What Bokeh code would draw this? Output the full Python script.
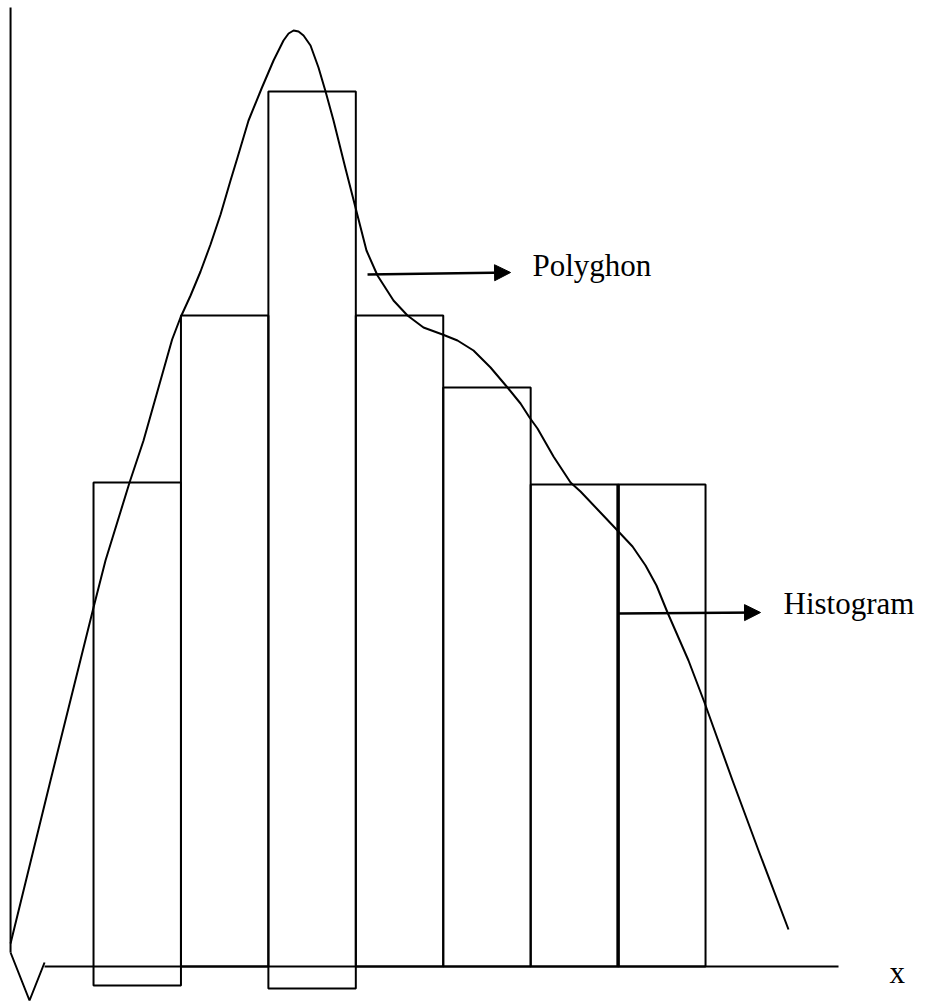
from bokeh.plotting import figure
from bokeh.models import Range1d, Arrow, NormalHead, ColumnDataSource
from bokeh.core.properties import value
from bokeh.embed import file_html
from bokeh.resources import INLINE

# ---- data (class boundaries / frequencies) ----
class_left = [0, 10, 20, 30, 40, 50, 60]
class_right = [10, 20, 30, 40, 50, 60, 70]
freq = [9.68, 13.02, 17.5, 13.02, 11.58, 9.64, 9.64]
bar_bottom = [-0.38, 0.0, -0.44, 0.0, 0.0, 0.0, 0.0]

poly_x = [-9.49, -4.92, 0.0, 1.37, 4.12, 5.72, 8.99, 9.95, 11.1, 12.24, 13.38,
          14.53, 15.67, 16.47, 17.73, 19.22,
          20.59, 21.73, 22.31, 22.88, 23.45, 24.02, 24.82, 25.73, 26.54, 27.45, 28.82, 30.08,
          31.22, 32.48, 34.31, 35.91, 37.74, 39.92, 41.63, 43.46, 45.41, 47.35,
          48.84, 49.87, 50.78, 52.61, 54.56, 55.7, 57.76, 59.93, 61.65, 63.14,
          64.39, 65.65, 68.05, 69.88, 73.09, 76.06, 79.49]
poly_y = [0.46, 3.72, 7.18, 8.12, 9.68, 10.52, 12.54, 12.98, 13.42, 13.9, 14.44,
          15.04, 15.72, 16.18, 16.92, 17.56,
          18.12, 18.52, 18.66, 18.72, 18.7, 18.62, 18.42, 17.98, 17.5, 16.92, 15.96, 15.1,
          14.32, 13.82, 13.32, 13.02, 12.78, 12.64, 12.52, 12.32, 11.98, 11.58,
          11.26, 10.98, 10.76, 10.2, 9.68, 9.5, 9.12, 8.72, 8.4, 8.02,
          7.62, 7.08, 6.12, 5.28, 3.72, 2.32, 0.74]

labels = ["Polyghon", "Histogram", "x"]

W, H = 932, 1001
p = figure(width=W, height=H, output_backend="svg", toolbar_location=None,
           x_range=Range1d(-10.64, 95.96), y_range=Range1d(-0.70, 19.32),
           min_border=0, outline_line_color=None)
p.xaxis.visible = False
p.yaxis.visible = False
p.grid.visible = False
p.background_fill_color = "white"
p.border_fill_color = "white"

# axes drawn by hand (with break symbol)
p.line([-9.49, -9.49], [19.18, 0.28], line_color="black", line_width=2)
p.line([-9.49, -7.32, -5.6], [0.28, -0.68, 0.08], line_color="black", line_width=2)
p.line([-5.6, 85.21], [0.0, 0.0], line_color="black", line_width=2)

# histogram bars
src = ColumnDataSource(dict(left=class_left, right=class_right, top=freq, bottom=bar_bottom))
p.quad(left="left", right="right", top="top", bottom="bottom", source=src,
       fill_color=None, line_color="black", line_width=2)
# thicker edge
p.line([class_left[6], class_left[6]], [0, freq[6]], line_color="black", line_width=3.5)

# frequency polygon curve
p.line(poly_x, poly_y, line_color="black", line_width=2, line_join="round")

# arrows
p.add_layout(Arrow(end=NormalHead(size=16, fill_color="black", line_color="black"),
                   x_start=31.34, y_start=13.84, x_end=47.7, y_end=13.88,
                   line_color="black", line_width=2.5))
p.add_layout(Arrow(end=NormalHead(size=16, fill_color="black", line_color="black"),
                   x_start=60.05, y_start=7.06, x_end=76.29, y_end=7.08,
                   line_color="black", line_width=2.5))

p.text(x=[50.21, 78.92, 91.04], y=[14.02, 7.26, -0.12], text=labels,
       text_font=value("Liberation Serif"), text_font_size="31px",
       text_color="black", text_baseline="alphabetic", text_align="left")

open("out.html", "w").write(file_html(p, INLINE))
